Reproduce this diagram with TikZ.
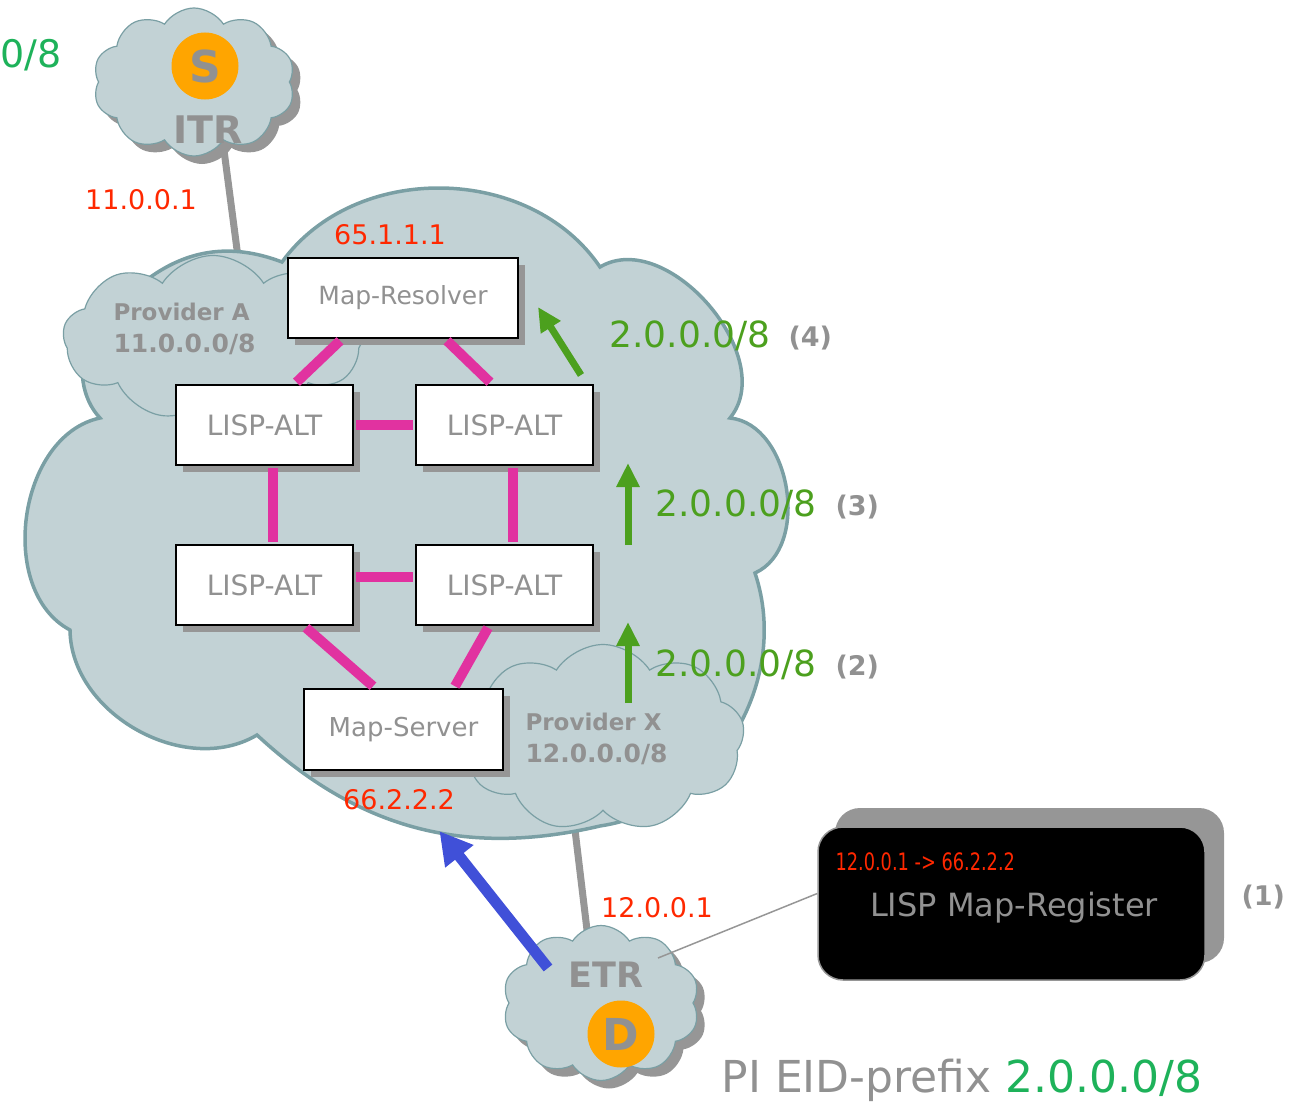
\documentclass[tikz,border=0pt]{standalone}
\usepackage{fontspec}
\usepackage{graphicx}
\setmainfont{DejaVu Sans}
\usetikzlibrary{shapes.symbols,arrows.meta,calc,shadows}
\definecolor{cfill}{RGB}{194,210,213}
\definecolor{cline}{RGB}{122,159,164}
\definecolor{shgray}{RGB}{150,150,150}
\definecolor{tgray}{RGB}{145,145,145}
\definecolor{ipred}{RGB}{255,40,0}
\definecolor{pgreen}{RGB}{76,160,30}
\definecolor{egreen}{RGB}{30,178,90}
\definecolor{altpink}{RGB}{225,50,160}
\definecolor{regblue}{RGB}{64,80,216}
\definecolor{dotorange}{RGB}{255,165,0}
\newcommand\fsz[2]{\fontsize{#1}{#2}\selectfont}
\begin{document}
\begin{tikzpicture}[x=1pt,y=-1pt,
  smallcloud/.style={cloud, cloud puffs=10, cloud puff arc=115, inner sep=0pt, fill=cfill, draw=cline, line width=1.2},
  cloudshadow/.style={cloud, cloud puffs=10, cloud puff arc=115, inner sep=0pt, fill=shgray, draw=none},
  altbox/.style={rectangle, draw=black, line width=2.5, fill=white, text=tgray, inner sep=0pt,
     drop shadow={shadow xshift=7pt, shadow yshift=-7pt, fill=shgray, opacity=1}, font=\fsz{25}{30}},
  altfont/.style={font=\fsz{28}{32}},
  pinklink/.style={altpink, line width=10},
  graylink/.style={shgray, line width=7},
  greenarrow/.style={pgreen, line width=7, -{Triangle[width=22,length=24]}},
  iplabel/.style={text=ipred, font=\fsz{27}{30}},
  pfxlabel/.style={text=pgreen, font=\fsz{36}{40}, anchor=west},
  steplabel/.style={text=tgray, font=\bfseries\fsz{27}{30}, anchor=west},
  provlabel/.style={text=tgray, font=\bfseries\fsz{23}{32}, align=left, anchor=west},
]
\useasboundingbox (0,0) rectangle (1293,1108);

% gray access links (behind clouds)
\coordinate (itrin) at (222,135);
\coordinate (coretop) at (241,280);
\coordinate (coredown) at (572,805);
\coordinate (etrin) at (590,955);
\draw[graylink] (itrin) -- (coretop);
\draw[graylink] (coredown) -- (etrin);

% big core cloud
\path[fill=cfill, draw=cline, line width=3.5]
  (140,285) to[bend left=30] (282,262)
  to[bend left=55] (600,267)
  to[bend left=80] (730,418)
  to[bend left=75] (755,573)
  to[bend left=50] (600,826)
  to[bend left=28] (257,735)
  to[bend left=60] (70,630)
  to[bend left=70] (100,418)
  to[bend left=60] (140,285) -- cycle;

% provider clouds
\node[smallcloud, cloud puffs=9, minimum width=300, minimum height=165] (provA) at (213,338) {};
\node[smallcloud, cloud puffs=9, minimum width=283, minimum height=187] (provX) at (603,738) {};

% ITR and ETR clouds
\node[cloudshadow, minimum width=202, minimum height=148] at (202,90) {};
\node[smallcloud, minimum width=202, minimum height=148] (itr) at (194,82) {};
\node[cloudshadow, minimum width=197, minimum height=155] at (609,1011) {};
\node[smallcloud, minimum width=197, minimum height=155] (etr) at (601,1003) {};

\node[circle, fill=dotorange, minimum size=67, inner sep=0pt, text=tgray, font=\bfseries\fsz{44}{50}] (src) at (205,66) {S};
\node[text=tgray, font=\bfseries\fsz{38}{44}] (itrlbl) at (208,130) {ITR};
\node[text=tgray, font=\bfseries\fsz{35}{40}] (etrlbl) at (606,975) {ETR};
\node[circle, fill=dotorange, minimum size=67, inner sep=0pt, text=tgray, font=\bfseries\fsz{44}{50}] (dst) at (621,1034) {D};

% provider labels
\node[provlabel] (provAlbl) at (110,329) {Provider A\\{\fsz{25}{32}11.0.0.0/8}};
\node[provlabel] (provXlbl) at (522,739) {Provider X\\{\fsz{25}{32}12.0.0.0/8}};

% boxes
\node[altbox, minimum width=230, minimum height=80] (mr) at (403,298) {Map-Resolver};
\node[altbox, altfont, minimum width=177, minimum height=80] (alt1) at (264.5,425) {LISP-ALT};
\node[altbox, altfont, minimum width=177, minimum height=80] (alt2) at (504.5,425) {LISP-ALT};
\node[altbox, altfont, minimum width=177, minimum height=80] (alt3) at (264.5,585) {LISP-ALT};
\node[altbox, altfont, minimum width=177, minimum height=80] (alt4) at (504.5,585) {LISP-ALT};
\node[altbox, font=\fsz{26}{30}, minimum width=199, minimum height=81] (ms) at (403.5,729.5) {Map-Server};

% ALT links
\draw[pinklink] ($(mr.south)+(-63,1.5)$) -- ($(alt1.north)+(32,-1.5)$);
\draw[pinklink] ($(mr.south)+(44,1.5)$) -- ($(alt2.north)+(-14.5,-1.5)$);
\draw[pinklink] ($(alt1.east)+(1.5,0)$) -- ($(alt2.west)+(-1.5,0)$);
\draw[pinklink] ($(alt1.south)+(8,1.5)$) -- ($(alt3.north)+(8,-1.5)$);
\draw[pinklink] ($(alt2.south)+(8,1.5)$) -- ($(alt4.north)+(8,-1.5)$);
\draw[pinklink] ($(alt3.east)+(1.5,-8)$) -- ($(alt4.west)+(-1.5,-8)$);
\draw[pinklink] ($(alt3.south)+(41.5,1.5)$) -- ($(ms.north)+(-30.5,-1.5)$);
\draw[pinklink] ($(alt4.south)+(-16.5,1.5)$) -- ($(ms.north)+(51.5,-1.5)$);

% IP labels
\node[iplabel] (ipA) at (141,200) {11.0.0.1};
\node[iplabel] (ipMR) at (390,235) {65.1.1.1};
\node[iplabel] (ipMS) at (399,800) {66.2.2.2};
\node[iplabel] (ipETR) at (657,908) {12.0.0.1};

% propagation arrows
\coordinate (a4s) at (581,375); \coordinate (a4e) at (538,307);
\coordinate (a3s) at (628,545); \coordinate (a3e) at (628,463);
\coordinate (a2s) at (628,703); \coordinate (a2e) at (628,622);
\draw[greenarrow] (a4s) -- (a4e);
\draw[greenarrow] (a3s) -- (a3e);
\draw[greenarrow] (a2s) -- (a2e);
\node[pfxlabel] (p4) at (606,336) {2.0.0.0/8};
\node[steplabel] (s4) at (785,338) {(4)};
\node[pfxlabel] (p3) at (652,505) {2.0.0.0/8};
\node[steplabel] (s3) at (832,507) {(3)};
\node[pfxlabel] (p2) at (652,665) {2.0.0.0/8};
\node[steplabel] (s2) at (832,667) {(2)};

% register arrow
\coordinate (etrout) at (548,968);
\draw[regblue, line width=11, -{Triangle[width=34,length=32]}] (etrout) -- ($(ms.south)+(36,60)$);

% message box
\path[fill=shgray, rounded corners=25] (835,808) rectangle (1224,963);
\node[rectangle, rounded corners=25, fill=black, draw=shgray, line width=1.5, minimum width=387, minimum height=153, inner sep=0pt] (reg) at (1011.5,903.5) {};
\node[text=ipred, font=\fsz{24}{28}, anchor=west] (regip) at (832,862) {\scalebox{0.74}[1]{12.0.0.1 -> 66.2.2.2}};
\node[text=tgray, font=\fsz{32}{36}] (regtxt) at (1014,908) {LISP Map-Register};
\coordinate (etrnote) at (658,958);
\draw[shgray, line width=1.5] (etrnote) -- ($(reg.west)+(0,-10)$);
\node[steplabel] (s1) at (1238,897) {(1)};

% prefix labels
\node[text=egreen, font=\fsz{38}{44}, anchor=west, inner sep=0pt] (topfx) at (0,55) {0/8};
\node[anchor=west, font=\fsz{44}{50}] (eid) at (718,1080) {\textcolor{tgray}{PI EID-prefix }\textcolor{egreen}{2.0.0.0/8}};
\end{tikzpicture}
\end{document}
